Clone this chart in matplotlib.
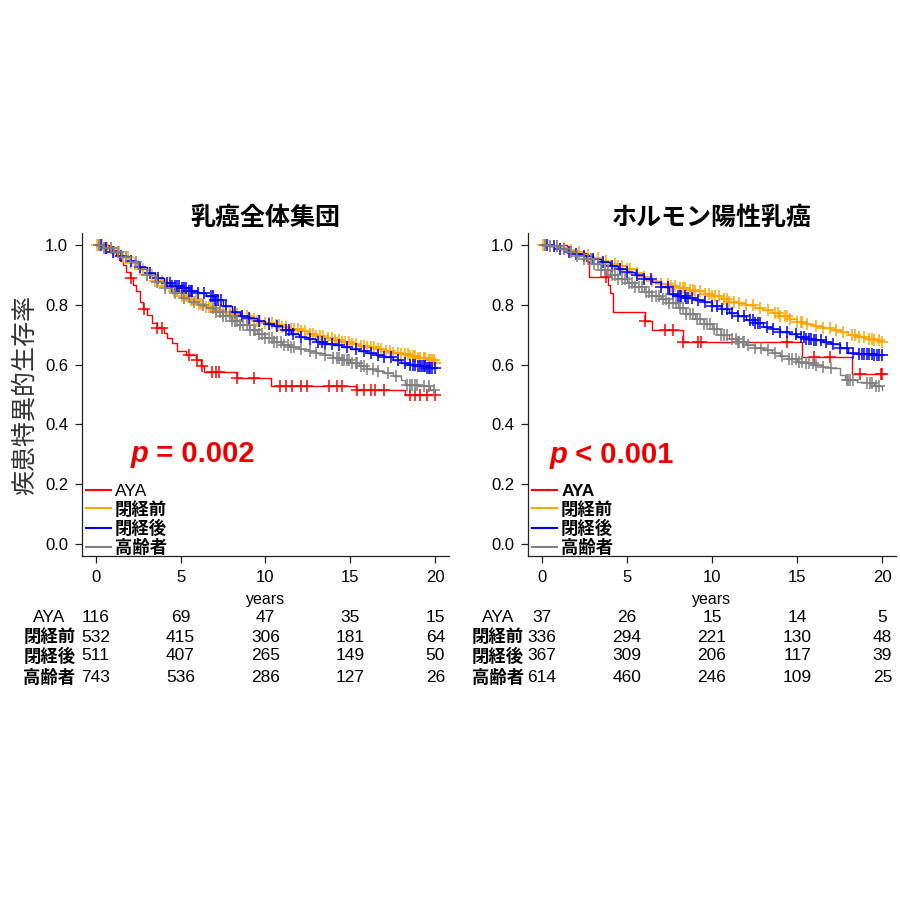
import numpy as np
import matplotlib
matplotlib.use("Agg")
import matplotlib.pyplot as plt
from matplotlib.transforms import blended_transform_factory
from matplotlib.lines import Line2D

plt.rcParams['font.family'] = ['Liberation Sans', 'Noto Sans CJK JP']

groups = ["AYA", "閉経前", "閉経後", "高齢者"]
colors = ["#ff0000", "#ffa500", "#0000ff", "#808080"]
titles = ["乳癌全体集団", "ホルモン陽性乳癌"]
p_texts = ["= 0.002", "< 0.001"]
risk_times = [0, 5, 10, 15, 20]

# --- 乳癌全体集団 (left) ---
L_aya_t = [0.8, 1.2, 1.4, 1.6, 1.8, 2.0, 2.2, 2.4, 2.6, 2.8, 3.0, 3.3, 3.6, 4.0, 4.2, 4.5, 4.8, 5.3, 5.9, 6.2, 6.4, 8.3, 10.3, 15.3, 18.2]
L_aya_s = [0.983, 0.966, 0.95, 0.933, 0.91, 0.888, 0.866, 0.845, 0.81, 0.785, 0.766, 0.74, 0.724, 0.707, 0.69, 0.672, 0.646, 0.632, 0.615, 0.596, 0.576, 0.555, 0.527, 0.515, 0.498]
L_aya_c = [2.06, 2.84, 3.63, 3.92, 5.49, 5.98, 6.27, 6.86, 7.06, 7.25, 8.33, 9.31, 10.88, 11.18, 11.57, 12.06, 12.45,
           13.73, 14.22, 14.5, 15.39, 15.78, 16.18, 16.47, 16.96, 18.53, 18.82, 19.12, 19.51, 20.0]

L_pre_t = [0.5, 1.0, 1.5, 2.0, 2.5, 3.0, 3.5, 4.0, 4.5, 5.0, 5.5, 6.0, 6.5, 7.0, 7.5, 8.0, 8.5, 9.0, 9.5, 10.0,
           10.5, 11.0, 11.5, 12.0, 12.5, 13.0, 13.5, 14.0, 14.5, 15.0, 15.5, 16.0, 16.5, 17.0, 17.5, 18.0, 18.5, 19.0, 19.5, 20.0]
L_pre_s = [0.99, 0.975, 0.96, 0.94, 0.92, 0.9, 0.88, 0.862, 0.845, 0.828, 0.815, 0.803, 0.792, 0.783, 0.776, 0.768, 0.761, 0.754, 0.747, 0.74,
           0.733, 0.726, 0.718, 0.711, 0.704, 0.697, 0.69, 0.683, 0.676, 0.669, 0.663, 0.658, 0.652, 0.646, 0.64, 0.634, 0.628, 0.622, 0.614, 0.606]
L_pre_c = [0.1, 0.2, 0.4, 0.55, 0.7, 0.9, 1.1, 1.4, 1.6, 1.9, 2.1, 2.3, 2.6, 2.8, 3.0, 3.3, 3.5, 3.7, 3.9, 4.1, 4.4, 4.6, 4.8, 5.1,
           5.3, 5.4, 5.6, 5.7, 5.9, 6.1, 6.2, 6.5, 6.7, 6.8, 7.1, 7.3, 7.5, 7.9, 8.1, 8.3, 8.6, 8.9, 9.1, 9.3, 9.5, 9.7, 10.0,
           10.2, 10.4, 10.6, 10.8, 11.0, 11.2, 11.5, 11.7, 11.9, 12.1, 12.3, 12.6, 12.8, 13.0, 13.2, 13.4, 13.7, 13.9, 14.1,
           14.3, 14.5, 14.7, 14.9, 15.1, 15.3, 15.6, 15.8, 16.0, 16.2, 16.4, 16.6, 16.8, 17.1, 17.3, 17.5, 17.8, 18.0, 18.2,
           18.4, 18.5, 18.7, 18.8, 19.0, 19.1, 19.3, 19.4, 19.6, 19.7, 19.8, 19.9, 20.0]

L_post_t = [0.5, 1.0, 1.5, 2.0, 2.5, 3.0, 3.5, 4.0, 4.5, 5.0, 5.5, 6.0, 6.5, 7.0, 7.5, 8.0, 8.5, 9.0, 9.5, 10.0,
            10.5, 11.0, 11.5, 12.0, 12.5, 13.0, 13.5, 14.0, 14.5, 15.0, 15.5, 16.0, 16.5, 17.0, 17.5, 18.0, 18.5, 19.0, 19.5]
L_post_s = [0.99, 0.978, 0.962, 0.945, 0.925, 0.905, 0.888, 0.872, 0.863, 0.855, 0.847, 0.838, 0.828, 0.815, 0.795, 0.775, 0.764, 0.755, 0.746, 0.737,
            0.728, 0.716, 0.703, 0.692, 0.684, 0.677, 0.67, 0.664, 0.658, 0.652, 0.646, 0.64, 0.632, 0.624, 0.615, 0.606, 0.6, 0.595, 0.59]
L_post_c = [0.3, 0.6, 1.0, 1.5, 2.1, 2.6, 3.2, 3.7, 4.2, 4.4, 4.5, 4.7, 4.8, 4.9, 5.1, 5.2, 5.3, 5.5, 5.6, 5.7, 6.0, 6.4,
            6.8, 6.9, 7.0, 7.1, 7.2, 7.4, 7.7, 8.2, 8.6, 9.0, 9.6, 10.2, 10.7, 11.2, 11.4, 11.6, 12.1, 12.6, 13.1, 13.3,
            13.5, 13.9, 14.3, 14.8, 15.3, 15.8, 16.2, 16.6, 17.0, 17.4, 17.8, 18.2, 18.5, 18.7, 18.8, 19.0, 19.1, 19.2,
            19.3, 19.4, 19.5, 19.6, 19.7, 19.8, 20.0]

L_old_t = [0.5, 1.0, 1.5, 2.0, 2.5, 3.0, 3.5, 4.0, 4.5, 5.0, 5.5, 6.0, 6.5, 7.0, 7.5, 8.0, 8.5, 9.0, 9.5, 10.0,
           10.5, 11.0, 11.5, 12.0, 12.5, 13.0, 13.5, 14.0, 14.5, 15.0, 15.5, 16.0, 16.5, 17.0, 17.5, 18.0, 18.2, 19.0, 19.7]
L_old_s = [0.99, 0.975, 0.96, 0.944, 0.92, 0.898, 0.876, 0.855, 0.838, 0.822, 0.81, 0.799, 0.788, 0.776, 0.762, 0.746, 0.731, 0.717, 0.703, 0.69,
           0.676, 0.665, 0.659, 0.653, 0.647, 0.64, 0.632, 0.623, 0.614, 0.607, 0.597, 0.586, 0.578, 0.571, 0.563, 0.55, 0.532, 0.527, 0.515]
L_old_c = [0.2, 0.5, 0.9, 1.3, 1.8, 2.4, 3.0, 3.6, 4.1, 4.7, 5.2, 5.8, 6.3, 6.9, 7.1, 7.3, 7.5, 7.7, 7.9, 8.0, 8.2, 8.3,
           8.5, 8.7, 8.9, 9.1, 9.3, 9.4, 9.6, 9.8, 10.0, 10.2, 10.4, 10.5, 10.7, 10.9, 11.1, 11.3, 11.5, 11.7, 12.1,
           12.6, 13.0, 13.5, 14.0, 14.2, 14.3, 14.5, 14.6, 14.8, 14.9, 15.1, 15.3, 15.4, 15.6, 15.8, 16.0, 16.3, 16.6,
           17.2, 17.7, 18.3, 18.5, 18.6, 18.8, 18.9, 19.3, 19.6, 19.9]

# --- ホルモン陽性乳癌 (right) ---
R_aya_t = [1.5, 2.6, 2.8, 3.9, 4.0, 4.2, 6.06, 6.5, 8.3, 15.3, 18.2]
R_aya_s = [0.973, 0.946, 0.892, 0.865, 0.838, 0.775, 0.745, 0.716, 0.677, 0.627, 0.569]
R_aya_c = [3.8, 6.06, 7.24, 7.73, 8.31, 9.2, 9.33, 14.4, 16.0, 16.9, 18.7, 19.9, 20.0]

R_pre_t = [0.5, 1.0, 1.5, 2.0, 2.5, 3.0, 3.5, 4.0, 4.5, 5.0, 5.5, 6.0, 6.5, 7.0, 7.5, 8.0, 8.5, 9.0, 9.5, 10.0,
           10.5, 11.0, 11.5, 12.0, 12.5, 13.0, 13.5, 14.0, 14.5, 15.0, 15.5, 16.0, 16.5, 17.0, 17.5, 18.0, 18.5, 19.0, 19.5, 20.0]
R_pre_s = [0.997, 0.99, 0.983, 0.975, 0.966, 0.957, 0.948, 0.938, 0.929, 0.919, 0.907, 0.894, 0.881, 0.868, 0.862, 0.856, 0.851, 0.845, 0.837, 0.828,
           0.819, 0.81, 0.805, 0.798, 0.79, 0.783, 0.774, 0.764, 0.754, 0.744, 0.737, 0.73, 0.722, 0.715, 0.708, 0.7, 0.693, 0.687, 0.682, 0.677]
R_pre_c = [0.1, 0.2, 0.5, 0.9, 1.3, 1.7, 2.2, 2.7, 3.3, 3.8, 4.3, 4.5, 4.7, 5.0, 5.2, 5.6, 6.0, 6.5, 7.0, 7.4, 7.6, 7.8, 8.1,
           8.3, 8.4, 8.7, 8.9, 9.0, 9.3, 9.6, 9.8, 10.0, 10.2, 10.4, 10.7, 10.9, 11.0, 11.3, 11.6, 12.0, 12.4, 12.8, 13.3,
           13.7, 13.9, 14.0, 14.3, 14.4, 14.6, 15.0, 15.2, 15.3, 15.6, 16.1, 16.5, 16.9, 17.3, 17.7, 18.2, 18.4, 18.6,
           18.9, 19.2, 19.4, 19.5, 19.8, 20.0]

R_post_t = [0.5, 1.0, 1.5, 2.0, 2.5, 3.0, 3.5, 4.0, 4.5, 5.0, 5.5, 6.0, 6.5, 7.0, 7.5, 8.0, 8.5, 9.0, 9.5, 10.0,
            10.5, 11.0, 11.5, 12.0, 12.5, 13.0, 13.5, 14.0, 14.5, 15.0, 15.5, 16.0, 16.5, 17.0, 17.5, 18.0, 18.5, 19.5]
R_post_s = [0.995, 0.986, 0.978, 0.97, 0.962, 0.953, 0.942, 0.93, 0.92, 0.909, 0.898, 0.887, 0.876, 0.86, 0.835, 0.829, 0.823, 0.817, 0.808, 0.797,
            0.786, 0.774, 0.762, 0.75, 0.738, 0.727, 0.718, 0.71, 0.701, 0.693, 0.687, 0.681, 0.676, 0.67, 0.655, 0.64, 0.636, 0.633]
R_post_c = [0.3, 0.7, 1.1, 1.6, 2.0, 2.5, 3.0, 3.6, 4.1, 4.6, 5.0, 5.6, 6.0, 6.4, 7.0, 7.4, 7.7, 8.0, 8.1, 8.2, 8.4, 8.5,
            8.6, 8.8, 9.2, 9.6, 10.0, 10.3, 10.6, 10.9, 11.2, 11.5, 11.9, 12.2, 12.4, 12.5, 12.7, 12.8, 13.2, 13.6, 14.0,
            14.4, 14.9, 15.2, 15.4, 15.5, 15.7, 15.8, 16.0, 16.1, 16.4, 16.7, 17.1, 17.5, 17.9, 18.3, 18.6, 18.8, 18.9,
            19.1, 19.2, 19.4, 19.5, 19.7, 19.8, 20.0]

R_old_t = [0.5, 1.0, 1.5, 2.0, 2.5, 3.0, 3.5, 4.0, 4.5, 5.0, 5.5, 6.0, 6.5, 7.0, 7.5, 8.0, 8.5, 9.0, 9.5, 10.0,
           10.5, 11.0, 11.5, 12.0, 12.5, 13.0, 13.5, 14.0, 14.5, 15.0, 15.5, 16.0, 16.5, 17.0, 17.5, 17.8, 18.5, 19.1, 19.5, 20.0]
R_old_s = [0.995, 0.987, 0.976, 0.964, 0.952, 0.935, 0.917, 0.9, 0.886, 0.872, 0.858, 0.843, 0.831, 0.818, 0.805, 0.788, 0.77, 0.752, 0.735, 0.718,
           0.7, 0.684, 0.675, 0.666, 0.657, 0.649, 0.639, 0.629, 0.619, 0.61, 0.604, 0.598, 0.593, 0.587, 0.566, 0.548, 0.543, 0.537, 0.527, 0.516]
R_old_c = [0.2, 0.5, 0.9, 1.3, 1.7, 2.1, 2.5, 2.7, 2.9, 3.1, 3.3, 3.5, 3.7, 3.9, 4.1, 4.3, 4.5, 4.7, 4.9, 5.1, 5.3, 5.5,
           5.7, 5.9, 6.1, 6.3, 6.5, 6.7, 6.9, 7.1, 7.3, 7.5, 7.7, 7.9, 8.1, 8.3, 8.5, 8.7, 8.9, 9.1, 9.3, 9.5, 9.7,
           9.9, 10.1, 10.3, 10.5, 10.7, 10.9, 11.2, 11.4, 11.5, 11.6, 11.8, 11.9, 12.1, 12.5, 12.9, 13.3, 13.7, 14.1,
           14.5, 14.7, 14.9, 15.1, 15.3, 15.5, 15.7, 15.9, 16.1, 16.5, 17.0, 17.9, 18.0, 18.1, 18.3, 19.1, 19.3, 19.4,
           19.6, 19.8]

# numbers at risk
L_risk = [[116, 69, 47, 35, 15], [532, 415, 306, 181, 64], [511, 407, 265, 149, 50], [743, 536, 286, 127, 26]]
R_risk = [[37, 26, 15, 14, 5], [336, 294, 221, 130, 48], [367, 309, 206, 117, 39], [614, 460, 246, 109, 25]]

left_curves = [(L_aya_t, L_aya_s, L_aya_c), (L_pre_t, L_pre_s, L_pre_c),
               (L_post_t, L_post_s, L_post_c), (L_old_t, L_old_s, L_old_c)]
right_curves = [(R_aya_t, R_aya_s, R_aya_c), (R_pre_t, R_pre_s, R_pre_c),
                (R_post_t, R_post_s, R_post_c), (R_old_t, R_old_s, R_old_c)]


def km(ax, t, s, cens, color):
    tt = np.r_[0.0, t]
    ss = np.r_[1.0, s]
    end = max(max(cens), tt[-1])
    ax.step(np.r_[tt, end], np.r_[ss, ss[-1]], where='post', color=color, lw=1.0)
    cens = np.asarray(cens)
    cy = ss[np.searchsorted(tt, cens, side='right') - 1]
    ax.plot(cens, cy, ls='none', marker='+', ms=8, mew=1.1, color=color)


fig = plt.figure(figsize=(9, 9), dpi=100)
ax_pos = [[0.0911, 0.3822, 0.4078, 0.3589], [0.5867, 0.3822, 0.4089, 0.3589]]
label_x = [0.055, 0.553]
p_pos = [(2.06, 0.275), (0.47, 0.27)]
legend_bold = [False, True]
risk_rows = [1 - 617 / 900, 1 - 637 / 900, 1 - 656 / 900, 1 - 677 / 900]

for k, (curves, risk) in enumerate([(left_curves, L_risk), (right_curves, R_risk)]):
    ax = fig.add_axes(ax_pos[k])
    for (t, s, c), col in zip(curves, colors):
        km(ax, t, s, c, col)
    ax.set_xlim(-0.8, 20.8)
    ax.set_ylim(-0.04, 1.04)
    ax.set_xticks(risk_times)
    ax.set_yticks([0.0, 0.2, 0.4, 0.6, 0.8, 1.0])
    ax.set_yticklabels(["0.0", "0.2", "0.4", "0.6", "0.8", "1.0"])
    for side in ['top', 'right']:
        ax.spines[side].set_visible(False)
    for side in ['left', 'bottom']:
        ax.spines[side].set_linewidth(0.9)
        ax.spines[side].set_color('#222222')
    ax.tick_params(direction='out', length=5, width=0.9, labelsize=12, pad=5, color='#222222')
    ax.set_xlabel("years", fontsize=11.5, labelpad=5)
    ax.set_title(titles[k], fontsize=18, fontweight='bold', pad=6)

    # p value
    tp = ax.text(p_pos[k][0], p_pos[k][1], "p", color='#ee0000', fontsize=21,
                 fontweight='bold', style='italic', va='baseline')
    ax.annotate(" " + p_texts[k], xy=(1, 0), xycoords=tp, va='bottom', ha='left',
                color='#ee0000', fontsize=21, fontweight='bold')

    handles = [Line2D([], [], color=c, lw=1.5) for c in colors]
    leg = ax.legend(handles, groups, loc='lower left', bbox_to_anchor=(0.012, 0.0),
                    frameon=False, handlelength=1.4, handletextpad=0.25, labelspacing=0.12,
                    borderpad=0, borderaxespad=0, prop={'size': 12.5})
    for i, txt in enumerate(leg.get_texts()):
        if legend_bold[k] or i > 0:
            txt.set_fontweight('bold')

    # numbers at risk table
    tr = blended_transform_factory(ax.transData, fig.transFigure)
    for i, g in enumerate(groups):
        fig.text(label_x[k], risk_rows[i], g, ha='center', va='center', fontsize=12.5,
                 fontweight='bold' if i > 0 else 'normal')
        for x, n in zip(risk_times, risk[i]):
            ax.text(x, risk_rows[i], str(n), transform=tr, ha='center', va='center', fontsize=12.5)

fig.text(0.028, 0.561, "疾患特異的生存率", rotation=90, ha='center', va='center',
         fontsize=18, color='#333333')

fig.savefig("out.png", dpi=100, facecolor='white')
